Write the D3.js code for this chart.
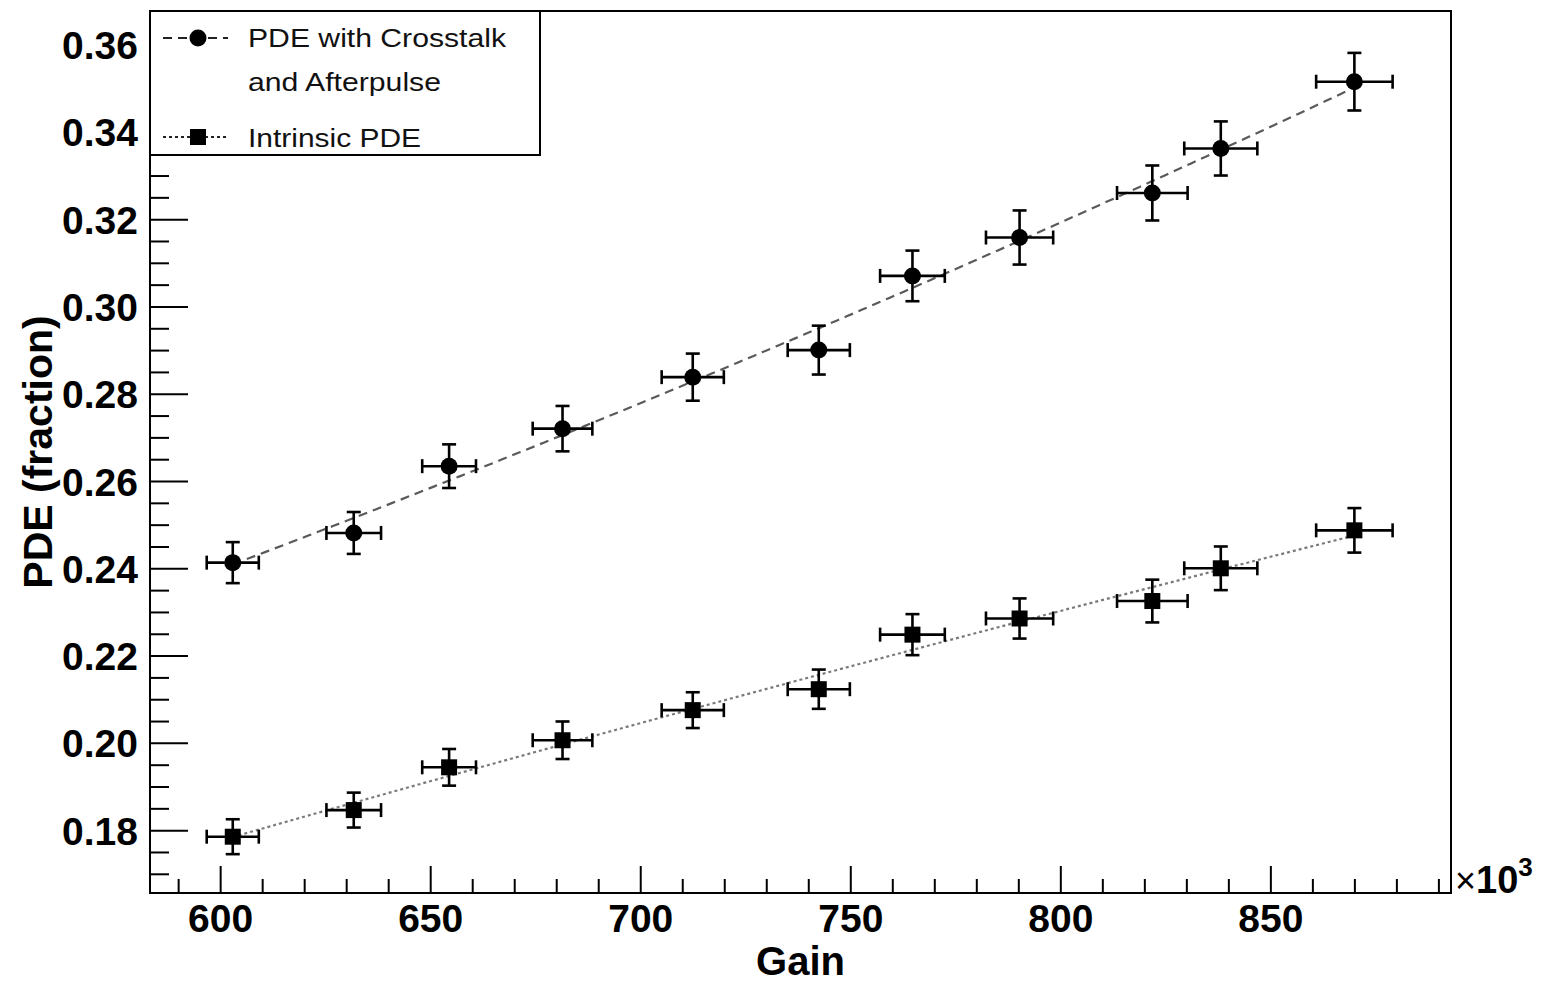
<!DOCTYPE html>
<html>
<head>
<meta charset="utf-8">
<script src="https://cdn.jsdelivr.net/npm/d3@7"></script>
<style>
  body { margin: 0; background: #fff; }
  svg { display: block; font-family: "Liberation Sans", Arial, Helvetica, sans-serif; }
</style>
</head>
<body>
<svg id="chart" width="1547" height="985"></svg>
<script>
// Gain (x10^3) and its uncertainty, shared by both measurements
const gain    = [603.0, 631.8, 654.5, 681.5, 712.5, 742.5, 764.8, 790.3, 821.9, 838.2, 870.0];
const gainErr = [6.2, 6.5, 6.4, 7.1, 7.4, 7.4, 7.7, 8.0, 8.4, 8.7, 9.1];

// PDE including crosstalk and afterpulse contributions
const pdeTotal    = [0.2413, 0.2481, 0.2634, 0.2720, 0.2838, 0.2900, 0.3070, 0.3158, 0.3260, 0.3362, 0.3515];
const pdeTotalErr = [0.0047, 0.0048, 0.0050, 0.0052, 0.0054, 0.0056, 0.0058, 0.0062, 0.0063, 0.0062, 0.0066];

// Intrinsic PDE
const pdeIntrinsic    = [0.1785, 0.1846, 0.1944, 0.2006, 0.2075, 0.2123, 0.2248, 0.2285, 0.2325, 0.2400, 0.2487];
const pdeIntrinsicErr = [0.0040, 0.0040, 0.0042, 0.0043, 0.0041, 0.0045, 0.0047, 0.0046, 0.0049, 0.0050, 0.0051];

// Axis ticks
const xTicks = [600, 650, 700, 750, 800, 850];
const yTicks = [0.18, 0.20, 0.22, 0.24, 0.26, 0.28, 0.30, 0.32, 0.34, 0.36];

// Legend labels
const legendLabels = [["PDE with Crosstalk", "and Afterpulse"], ["Intrinsic PDE"]];

const svg = d3.select("#chart");
const frame = { left: 150, right: 1451, top: 11, bottom: 893 };

const x = d3.scaleLinear().domain([583.3, 893.0]).range([frame.left, frame.right]);
const y = d3.scaleLinear().domain([0.1656, 0.3677]).range([frame.bottom, frame.top]);

// Weighted quadratic least-squares fit of a series
function quadFit(xs, ys, es) {
  const S = [[0,0,0],[0,0,0],[0,0,0]], B = [0,0,0];
  xs.forEach((xv, i) => {
    const t = (xv - 700) / 100, w = 1 / (es[i] * es[i]);
    const p = [1, t, t * t];
    for (let r = 0; r < 3; r++) {
      B[r] += w * p[r] * ys[i];
      for (let c = 0; c < 3; c++) S[r][c] += w * p[r] * p[c];
    }
  });
  // Gaussian elimination
  const M = S.map((row, r) => row.concat([B[r]]));
  for (let i = 0; i < 3; i++) {
    for (let k = i + 1; k < 3; k++) {
      const f = M[k][i] / M[i][i];
      for (let j = i; j < 4; j++) M[k][j] -= f * M[i][j];
    }
  }
  const a = [0,0,0];
  for (let i = 2; i >= 0; i--) {
    let s = M[i][3];
    for (let j = i + 1; j < 3; j++) s -= M[i][j] * a[j];
    a[i] = s / M[i][i];
  }
  return xv => { const t = (xv - 700) / 100; return a[0] + a[1] * t + a[2] * t * t; };
}

const fontTick = 39;

// ---- Y axis (ticks point inward) ----
const yMinor = d3.range(0.170, 0.3651, 0.005).filter(v => !yTicks.some(t => Math.abs(t - v) < 1e-6));
svg.append("g").attr("transform", `translate(${frame.left},0)`)
  .call(d3.axisLeft(y).tickValues(yMinor).tickSize(-19).tickFormat(""))
  .call(g => g.select(".domain").remove())
  .call(g => g.selectAll("line").attr("stroke", "#000").attr("stroke-width", 2));

svg.append("g").attr("transform", `translate(${frame.left},0)`)
  .call(d3.axisLeft(y).tickValues(yTicks).tickSize(-38).tickPadding(12).tickFormat(d3.format(".2f")))
  .call(g => g.select(".domain").remove())
  .call(g => g.selectAll("line").attr("stroke", "#000").attr("stroke-width", 2))
  .call(g => g.selectAll("text").attr("fill", "#000").attr("font-size", fontTick)
    .attr("font-weight", "bold").attr("font-family", "Liberation Sans, Arial, sans-serif")
    .attr("dy", "0.36em"));

// ---- X axis ----
const xMinor = d3.range(590, 891, 10).filter(v => !xTicks.includes(v));
svg.append("g").attr("transform", `translate(0,${frame.bottom})`)
  .call(d3.axisBottom(x).tickValues(xMinor).tickSize(-14).tickFormat(""))
  .call(g => g.select(".domain").remove())
  .call(g => g.selectAll("line").attr("stroke", "#000").attr("stroke-width", 2));

svg.append("g").attr("transform", `translate(0,${frame.bottom})`)
  .call(d3.axisBottom(x).tickValues(xTicks).tickSize(-27).tickFormat(d3.format("d")))
  .call(g => g.select(".domain").remove())
  .call(g => g.selectAll("line").attr("stroke", "#000").attr("stroke-width", 2))
  .call(g => g.selectAll("text").attr("fill", "#000").attr("font-size", fontTick)
    .attr("font-weight", "bold").attr("font-family", "Liberation Sans, Arial, sans-serif")
    .attr("y", 39).attr("dy", 0));

// Axis multiplier
const mult = svg.append("text").attr("x", 1455).attr("y", 893).attr("fill", "#000");
mult.append("tspan").attr("font-size", 36).text("×");
mult.append("tspan").attr("font-size", 38).attr("font-weight", "bold").text("10");
mult.append("tspan").attr("dy", -17).attr("font-size", 26).attr("font-weight", "bold").text("3");

// Axis titles
svg.append("text").attr("x", (frame.left + frame.right) / 2).attr("y", 975)
  .attr("text-anchor", "middle").attr("font-size", 40).attr("font-weight", "bold")
  .attr("fill", "#000").text("Gain");

svg.append("text").attr("transform", `translate(52,${(frame.top + frame.bottom) / 2}) rotate(-90)`)
  .attr("text-anchor", "middle").attr("font-size", 41).attr("font-weight", "bold")
  .attr("fill", "#000").text("PDE (fraction)");

// ---- Fit curves ----
const series = [
  { ys: pdeTotal, es: pdeTotalErr, marker: "circle", dash: "9,6", color: "#5a5a5a" },
  { ys: pdeIntrinsic, es: pdeIntrinsicErr, marker: "square", dash: "3,3", color: "#7a7a7a" }
];

const plot = svg.append("g");
series.forEach(s => {
  const f = quadFit(gain, s.ys, s.es);
  const xs = d3.range(gain[0], gain[gain.length - 1] + 0.001, 2);
  plot.append("path")
    .attr("d", d3.line().x(d => x(d)).y(d => y(f(d)))(xs))
    .attr("fill", "none").attr("stroke", s.color).attr("stroke-width", 2.2)
    .attr("stroke-dasharray", s.dash);
});

// ---- Error bars and markers ----
const cap = 7;
series.forEach(s => {
  const g = plot.append("g").attr("stroke", "#000").attr("stroke-width", 2.6);
  gain.forEach((gx, i) => {
    const cx = x(gx), cy = y(s.ys[i]);
    const x0 = x(gx - gainErr[i]), x1 = x(gx + gainErr[i]);
    const y0 = y(s.ys[i] - s.es[i]), y1 = y(s.ys[i] + s.es[i]);
    g.append("line").attr("x1", x0).attr("x2", x1).attr("y1", cy).attr("y2", cy);
    g.append("line").attr("x1", cx).attr("x2", cx).attr("y1", y0).attr("y2", y1);
    g.append("line").attr("x1", x0).attr("x2", x0).attr("y1", cy - cap).attr("y2", cy + cap);
    g.append("line").attr("x1", x1).attr("x2", x1).attr("y1", cy - cap).attr("y2", cy + cap);
    g.append("line").attr("x1", cx - cap).attr("x2", cx + cap).attr("y1", y0).attr("y2", y0);
    g.append("line").attr("x1", cx - cap).attr("x2", cx + cap).attr("y1", y1).attr("y2", y1);
  });
  gain.forEach((gx, i) => {
    const cx = x(gx), cy = y(s.ys[i]);
    if (s.marker === "circle") {
      plot.append("circle").attr("cx", cx).attr("cy", cy).attr("r", 8.5).attr("fill", "#000");
    } else {
      plot.append("rect").attr("x", cx - 8).attr("y", cy - 8).attr("width", 16).attr("height", 16).attr("fill", "#000");
    }
  });
});

// ---- Frame ----
svg.append("rect").attr("x", frame.left).attr("y", frame.top)
  .attr("width", frame.right - frame.left).attr("height", frame.bottom - frame.top)
  .attr("fill", "none").attr("stroke", "#000").attr("stroke-width", 2);

// ---- Legend ----
const leg = svg.append("g");
leg.append("rect").attr("x", frame.left).attr("y", frame.top).attr("width", 390).attr("height", 144)
  .attr("fill", "#fff").attr("stroke", "#000").attr("stroke-width", 2);

const legRows = [
  { yc: 38, s: series[0], lines: legendLabels[0], baselines: [47, 91], widths: [258, 193] },
  { yc: 137, s: series[1], lines: legendLabels[1], baselines: [147], widths: [173] }
];
legRows.forEach(r => {
  leg.append("line").attr("x1", 163).attr("x2", 228).attr("y1", r.yc).attr("y2", r.yc)
    .attr("stroke", "#222").attr("stroke-width", 2.2).attr("stroke-dasharray", r.s.dash);
  if (r.s.marker === "circle") {
    leg.append("circle").attr("cx", 198).attr("cy", r.yc).attr("r", 8.5).attr("fill", "#000");
  } else {
    leg.append("rect").attr("x", 190).attr("y", r.yc - 8).attr("width", 16).attr("height", 16).attr("fill", "#000");
  }
  r.lines.forEach((t, k) => {
    leg.append("text").attr("x", 248).attr("y", r.baselines[k])
      .attr("font-size", 25).attr("fill", "#111")
      .attr("textLength", r.widths[k]).attr("lengthAdjust", "spacingAndGlyphs")
      .text(t);
  });
});
</script>
</body>
</html>
